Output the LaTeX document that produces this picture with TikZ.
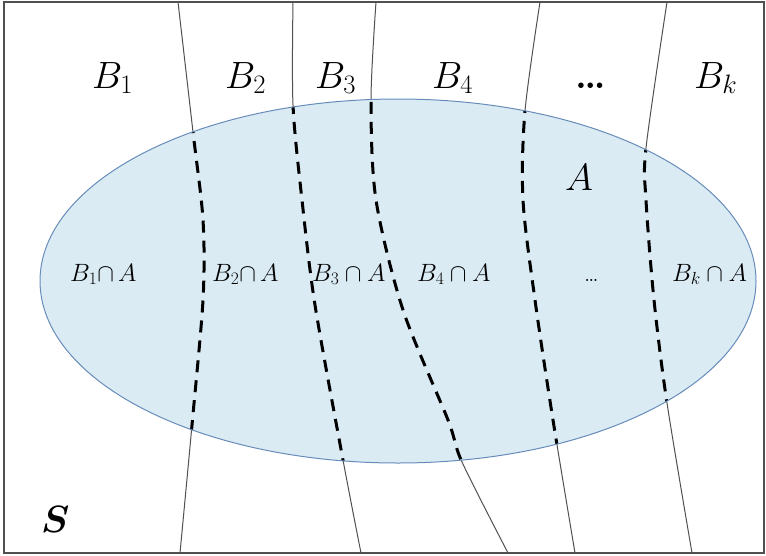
\RequirePackage{fix-cm}
\documentclass[tikz,border=0pt]{standalone}
\usepackage{amsmath,amssymb}
\usepackage{bm}
\usetikzlibrary{positioning}

\definecolor{setfill}{RGB}{218,235,244}
\definecolor{setedge}{RGB}{104,140,186}
\definecolor{framegray}{RGB}{80,80,80}

% the five boundaries between the B_i
\newcommand{\partlines}[1]{%
  \draw[#1] plot[smooth] coordinates {(178,2) (193,132) (203,220) (203,300) (192,425) (180,553)};
  \draw[#1] plot[smooth] coordinates {(293,2) (293,105) (302,200) (315,305) (343,460) (361,553)};
  \draw[#1] plot[smooth] coordinates {(376,2) (371,100) (376,200) (403,310) (448,420) (462,462) (508,553)};
  \draw[#1] plot[smooth] coordinates {(540,2) (525,111) (523,200) (535,300) (553,420) (575,553)};
  \draw[#1] plot[smooth] coordinates {(667,2) (646,148) (646,200) (654,300) (667,403) (692,553)};
}

\begin{document}
\begin{tikzpicture}[x=1pt, y=-1pt,
    bigtxt/.style={font=\fontsize{38}{44}\selectfont, inner sep=0pt, anchor=base west},
    smalltxt/.style={font=\fontsize{25}{30}\selectfont, inner sep=0pt, anchor=base west},
    thinline/.style={framegray, line width=1pt},
    cutline/.style={black, line width=3pt, dash pattern=on 12pt off 8pt}]
    \useasboundingbox (0,0) rectangle (766,555);

    % Partition lines (outside part)
    \partlines{thinline}

    % The set A
    \fill[setfill] (398,281) ellipse [x radius=358pt, y radius=182pt];

    % Partition lines inside A
    \begin{scope}
        \clip (398,281) ellipse [x radius=358pt, y radius=182pt];
        \partlines{cutline}
    \end{scope}
    \draw[setedge, line width=1pt] (398,281) ellipse [x radius=358pt, y radius=182pt];

    % Sample space
    \draw[framegray, line width=1.5pt] (4,2) rectangle (764,553);

    % Labels of the B_i
    \node[bigtxt] (b1) at (92,88) {$B_1$};
    \node[bigtxt] (b2) at (225,88) {$B_2$};
    \node[bigtxt] (b3) at (315,88) {$B_3$};
    \node[bigtxt] (b4) at (432,88) {$B_4$};
    \node[bigtxt] (bdots) at (575,88) {\textbf{\ldots}};
    \node[bigtxt] (bk) at (694,88) {$B_k$};

    % Labels of the intersections
    \node[smalltxt] (c1) at (70,281) {$B_1{\cap}\,A$};
    \node[smalltxt] (c2) at (212,281) {$B_2{\cap}\,A$};
    \node[smalltxt] (c3) at (312,281) {$B_3\cap A$};
    \node[smalltxt] (c4) at (417,281) {$B_4\cap A$};
    \node[smalltxt] (cdots) at (584,281) {\ldots};
    \node[smalltxt] (ck) at (672,281) {$B_k\cap A$};

    \node[bigtxt] (seta) at (565,190) {$A$};
    \node[bigtxt] (space) at (41,532) {$\bm{S}$};
\end{tikzpicture}
\end{document}
